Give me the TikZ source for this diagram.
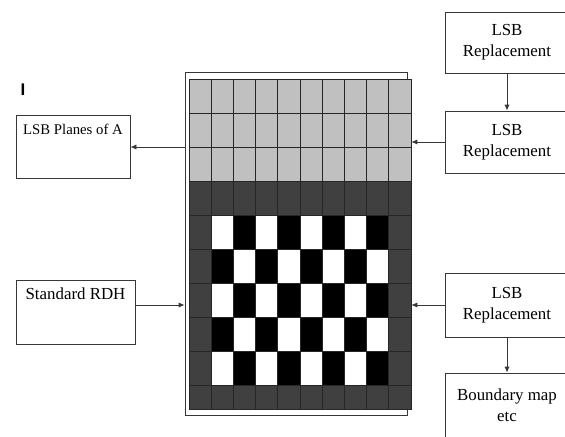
\documentclass[tikz,border=0pt]{standalone}
\usepackage{fontspec}
\setmainfont{Liberation Serif}
\newfontfamily\marksans{Liberation Sans}
\usetikzlibrary{arrows.meta,positioning,calc}
\definecolor{planegrey}{RGB}{192,192,192}
\definecolor{cellgrey}{RGB}{64,64,64}
\definecolor{edgegrey}{RGB}{55,55,55}

\begin{document}
\begin{tikzpicture}[every node/.style={font=\fontsize{12}{15}\selectfont},
  box/.style={draw=edgegrey, line width=0.6pt, minimum width=3.1cm, align=center, inner sep=0pt},
  topbox/.style={draw=edgegrey, line width=0.6pt, inner xsep=0pt, inner ysep=0.2cm, text height=0.275cm},
  arr/.style={draw=edgegrey, line width=0.6pt, -{Latex[length=1.5mm,width=1.3mm]}},
  gridline/.style={draw=black!85, line width=0.7pt}]
\clip (0,0) rectangle (14.125,10.9);

% frame behind the bit-plane grid
\node[draw=edgegrey, line width=0.6pt, minimum width=5.55cm, minimum height=8.575cm, inner sep=0pt] (frame) at (7.4,4.8125) {};
\node[minimum width=5.55cm, minimum height=8.25cm, inner sep=0pt] (img) at (7.5,4.8) {};

\begin{scope}[shift={(4.725,8.925)}]
  \fill[planegrey] (0,0) rectangle (5.55,-2.55);
  \fill[cellgrey] (0,-2.55) rectangle (5.55,-8.25);
  % checkerboard in the middle
  \foreach \r in {4,...,8}
    \foreach \c in {1,...,8} {
      \pgfmathparse{int(mod(\r+\c,2))}
      \ifnum\pgfmathresult=1
        \fill[white] (\c*0.555,-\r*0.85) rectangle ++(0.555,-0.85);
      \else
        \fill[black] (\c*0.555,-\r*0.85) rectangle ++(0.555,-0.85);
      \fi
    }
  \foreach \c in {1,...,9}
    \draw[gridline] (\c*0.555,0) -- (\c*0.555,-8.25);
  \foreach \r in {1,...,9}
    \draw[gridline] (0,-\r*0.85) -- (5.55,-\r*0.85);
  \draw[gridline] (0,0) rectangle (5.55,-8.25);
\end{scope}

\node[font=\marksans\bfseries\fontsize{12}{14}\selectfont] (mark) at (0.575,8.65) {I};

% left side
\node[topbox, font=\fontsize{10.5}{13}\selectfont, minimum width=2.85cm, text depth=0.9cm] (planes) at (1.825,7.225) {LSB Planes of A};
\node[topbox, minimum width=2.975cm, text depth=0.925cm] (rdh) at (1.8875,3.1) {Standard RDH};

% right side
\node[box, minimum height=1.525cm] (rep1) at (12.675,9.8375) {LSB\\Replacement};
\node[box, minimum height=1.55cm] (rep2) at (12.675,7.35) {LSB\\Replacement};
\node[box, minimum height=1.6cm] (rep3) at (12.675,3.275) {LSB\\Replacement};
\node[box, minimum height=1.6cm] (bmap) at (12.675,0.775) {Boundary map\\etc};

\coordinate (rdhout) at ([yshift=0.175cm]rdh.east);
\draw[arr] (planes.east -| frame.west) -- (planes.east);
\draw[arr] (rdhout) -- (rdhout -| frame.west);
\draw[arr] (rep1.south) -- (rep2.north);
\draw[arr] (rep2.west) -- (rep2.west -| img.east);
\draw[arr] (rep3.west) -- (rep3.west -| img.east);
\draw[arr] (rep3.south) -- (bmap.north);
\end{tikzpicture}
\end{document}
